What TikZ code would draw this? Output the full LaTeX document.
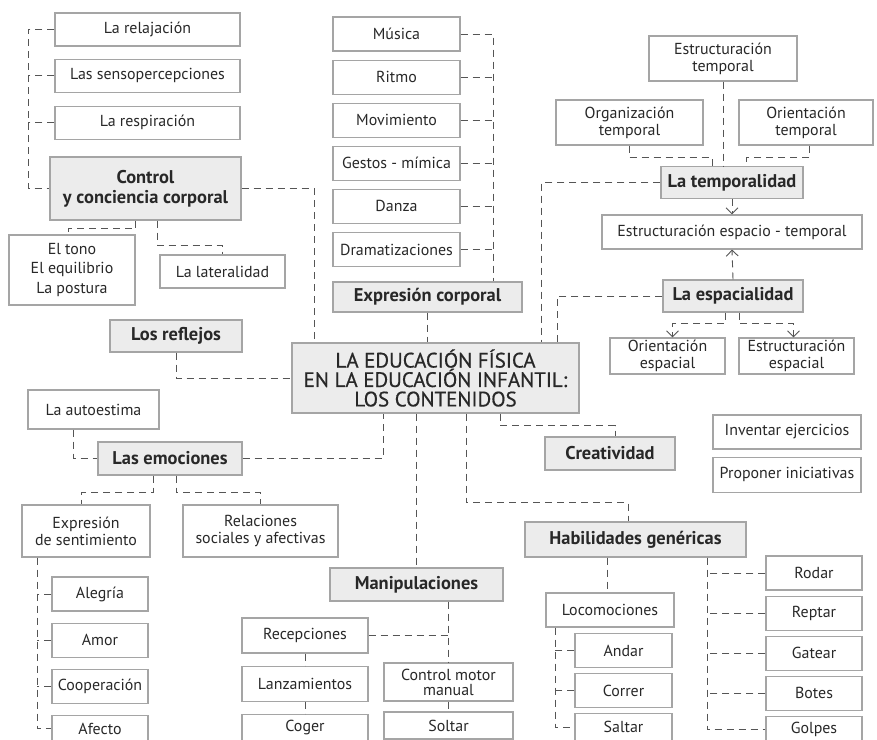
\documentclass[tikz,border=0pt]{standalone}
\usepackage{fontspec}
\setmainfont{PT Sans}
\usetikzlibrary{arrows.meta, positioning}
\definecolor{cLine}{RGB}{85,85,85}
\definecolor{cBorder}{RGB}{165,165,165}
\definecolor{cHead}{RGB}{236,236,236}
\definecolor{cText}{RGB}{40,40,40}
\newcommand{\boxfont}{\fontsize{16}{17}\selectfont}
\newcommand{\headfont}{\fontsize{18.5}{20}\selectfont\bfseries}
\newcommand{\titlefont}{\fontsize{21}{19.5}\selectfont\addfontfeature{FakeBold=0.6}}
\tikzset{
	box/.style={rectangle, draw=cBorder, line width=1.1bp, fill=white, text=cText, align=center, inner sep=1bp, font=\boxfont},
	hbox/.style={box, fill=cHead, font=\headfont},
	boxsize/.style 2 args={minimum width=#1bp, minimum height=#2bp},
	% dashed connectors
	link/.style={draw=cLine, line width=0.9bp, dash pattern=on 7bp off 5bp},
	linkarr/.style={link, -{Straight Barb[length=6bp, width=12bp, line width=0.9bp]}},
}
\begin{document}
\begin{tikzpicture}[x=1bp, y=-1bp, node distance=8bp]
	\useasboundingbox[fill=white] (0,0) rectangle (877,740);
	% centre
	\node[hbox, boxsize={287}{70}, font=\titlefont] (main) at (435.5,378) {LA EDUCACIÓN FÍSICA\\EN LA EDUCACIÓN INFANTIL:\\LOS CONTENIDOS};
	% control y conciencia corporal
	\node[box, boxsize={185}{33}] (relaj) at (147.5,29.5) {La relajación};
	\node[box, boxsize={185}{33}, below=12bp of relaj] (senso) {Las sensopercepciones};
	\node[box, boxsize={185}{33}, below=13bp of senso] (respir) {La respiración};
	\node[hbox, boxsize={191}{63}] (ctrl) at (145.5,188.5) {Control\\y conciencia corporal};
	\node[box, boxsize={126}{70}, font=\fontsize{16}{20}\selectfont] (tono) at (72,270) {El tono\\El equilibrio\\La postura};
	\node[box, boxsize={125}{33}] (later) at (222.5,271.5) {La lateralidad};
	\node[hbox, boxsize={132}{32}] (reflejos) at (176,336) {Los reflejos};
	% expresion corporal
	\node[box, boxsize={127}{34}] (musica) at (396.5,34) {Música};
	\node[box, boxsize={127}{34}, below=of musica] (ritmo) {Ritmo};
	\node[box, boxsize={127}{34}, below=of ritmo] (movim) {Movimiento};
	\node[box, boxsize={127}{34}, below=of movim] (gestos) {Gestos - mímica};
	\node[box, boxsize={127}{34}, below=of gestos] (danza) {Danza};
	\node[box, boxsize={127}{34}, below=of danza] (dramat) {Dramatizaciones};
	\node[hbox, boxsize={189}{30}] (expc) at (427.5,297) {Expresión corporal};
	% temporalidad y espacialidad
	\node[box, boxsize={148}{45}] (esttemp) at (723,58.5) {Estructuración\\temporal};
	\node[box, boxsize={147}{45}] (orgtemp) at (629.5,122.5) {Organización\\temporal};
	\node[box, boxsize={134}{45}] (oritemp) at (806,122.5) {Orientación\\temporal};
	\node[hbox, boxsize={142}{32}] (temp) at (732,182.5) {La temporalidad};
	\node[box, boxsize={260}{34}] (estet) at (732,232) {Estructuración espacio - temporal};
	\node[hbox, boxsize={140}{32}] (espa) at (733,296) {La espacialidad};
	\node[box, boxsize={115}{36}] (oriesp) at (667.5,356) {Orientación\\espacial};
	\node[box, boxsize={115}{36}] (estesp) at (796.5,356) {Estructuración\\espacial};
	% emociones
	\node[box, boxsize={131}{39}] (autoest) at (93.5,409.5) {La autoestima};
	\node[hbox, boxsize={144}{33}] (emoc) at (170,458.5) {Las emociones};
	\node[box, boxsize={128}{52}] (exprs) at (86,531) {Expresión\\de sentimiento};
	\node[box, boxsize={155}{52}] (relac) at (260.5,531) {Relaciones\\sociales y afectivas};
	\node[box, boxsize={96}{34}] (alegria) at (100,594) {Alegría};
	\node[box, boxsize={96}{34}, below=11bp of alegria] (amor) {Amor};
	\node[box, boxsize={96}{34}, below=11bp of amor] (coop) {Cooperación};
	\node[box, boxsize={96}{27}, below=11bp of coop] (afecto) {Afecto};
	% creatividad
	\node[hbox, boxsize={130}{33}] (crea) at (610,453.5) {Creatividad};
	\node[box, boxsize={148}{34}] (invent) at (787,432) {Inventar ejercicios};
	\node[box, boxsize={148}{35}, below=7bp of invent] (propon) {Proponer iniciativas};
	% manipulaciones
	\node[hbox, boxsize={173}{33}] (manip) at (416.5,584.5) {Manipulaciones};
	\node[box, boxsize={126}{35}] (recep) at (305,635.5) {Recepciones};
	\node[box, boxsize={126}{35}, below=12bp of recep] (lanz) {Lanzamientos};
	\node[box, boxsize={126}{27}, below=12bp of lanz] (coger) {Coger};
	\node[box, boxsize={129}{38}, font=\fontsize{16}{15}\selectfont] (cmm) at (448.5,682) {Control motor\\manual};
	\node[box, boxsize={129}{27}] (soltar) at (448.5,725.5) {Soltar};
	% habilidades genericas
	\node[hbox, boxsize={221}{35}] (habil) at (635.5,539.5) {Habilidades genéricas};
	\node[box, boxsize={128}{34}] (loco) at (610,610) {Locomociones};
	\node[box, boxsize={97}{34}] (andar) at (623.5,650.5) {Andar};
	\node[box, boxsize={97}{34}, below=5bp of andar] (correr) {Correr};
	\node[box, boxsize={97}{27}, below=5bp of correr] (saltar) {Saltar};
	\node[box, boxsize={96}{34}] (rodar) at (814,573) {Rodar};
	\node[box, boxsize={96}{34}, below=5bp of rodar] (reptar) {Reptar};
	\node[box, boxsize={96}{34}, below=5bp of reptar] (gatear) {Gatear};
	\node[box, boxsize={96}{34}, below=5bp of gatear] (botes) {Botes};
	\node[box, boxsize={96}{27}, below=5bp of botes] (golpes) {Golpes};
	% spines
	\coordinate (cspine) at (28,0);
	\coordinate (mspine) at (493,0);
	\coordinate (espine) at (37,0);
	\coordinate (lspine) at (555,0);
	\coordinate (hspine) at (707,0);
	% connectors
	\draw[link] (relaj.west) -- (relaj.west -| cspine) |- (ctrl.west);
	\draw[link] (senso.west) -- (senso.west -| cspine);
	\draw[link] (respir.west) -- (respir.west -| cspine);
	\draw[link] (ctrl.east) -| ([xshift=-121.5bp]main.north);
	\draw[link] ([xshift=-10bp]ctrl.south) -- ++(0,8) -| ([xshift=-4bp]tono.north);
	\draw[link] ([xshift=12bp]ctrl.south) -- ++(0,25) -| (later.north);
	\draw[link] (reflejos.south) |- (main.west);
	\draw[link] (musica.east) -- (musica.east -| mspine) -- (mspine |- expc.north);
	\foreach \n in {ritmo, movim, gestos, danza, dramat}
		\draw[link] (\n.east) -- (\n.east -| mspine);
	\draw[link] (expc.south) -- (expc.south |- main.north);
	\draw[link] (esttemp.south) -- (esttemp.south |- temp.north);
	\draw[link] (orgtemp.south) -- ++(0,12) -| ([xshift=-20bp]temp.north);
	\draw[link] ([xshift=3bp]oritemp.south) -- ++(0,12) -| ([xshift=14bp]temp.north);
	\draw[link] (temp.west) -| ([xshift=106bp]main.north);
	\draw[link] (espa.west) -| ([xshift=122bp]main.north);
	\draw[linkarr] (temp.south) -- (estet.north);
	\draw[linkarr] (espa.north) -- (estet.south);
	\draw[linkarr] ([xshift=-8bp]espa.south) -- ++(0,11) -| ([xshift=5bp]oriesp.north);
	\draw[linkarr] ([xshift=6bp]espa.south) -- ++(0,11) -| ([xshift=-3bp]estesp.north);
	\draw[link] ([xshift=-20bp]autoest.south) |- (emoc.west);
	\draw[link] (emoc.east) -| ([xshift=-52.5bp]main.south);
	\draw[link] ([xshift=-17bp]emoc.south) -- ++(0,17) -| ([xshift=-5bp]exprs.north);
	\draw[link] ([xshift=6bp]emoc.south) -- ++(0,17) -| (relac.north);
	\draw[link] (exprs.south -| espine) |- (afecto.west);
	\foreach \n in {alegria, amor, coop}
		\draw[link] (\n.west) -- (\n.west -| espine);
	\draw[link] (main.south -| manip.north) -- (manip.north);
	\draw[link] ([xshift=64.5bp]main.south) -- ++(0,12) -| ([xshift=5bp]crea.north);
	\draw[link] ([xshift=30.5bp]main.south) -- ++(0,89) -| ([xshift=-7.5bp]habil.north);
	\draw[link] (manip.south -| cmm.north) -- (cmm.north);
	\draw[link] (recep.east) -- (recep.east -| cmm.north);
	\draw[link] (recep.south) -- (lanz.north);
	\draw[link] (lanz.south) -- (coger.north);
	\draw[link] (cmm.south) -- (soltar.north);
	\draw[link] ([xshift=-28.5bp]habil.south) -- ([xshift=-28.5bp]habil.south |- loco.north);
	\draw[link] (loco.south -| lspine) |- (saltar.west);
	\foreach \n in {andar, correr}
		\draw[link] (\n.west) -- (\n.west -| lspine);
	\draw[link] (habil.south -| hspine) |- (golpes.west);
	\foreach \n in {rodar, reptar, gatear, botes}
		\draw[link] (\n.west) -- (\n.west -| hspine);
\end{tikzpicture}
\end{document}
